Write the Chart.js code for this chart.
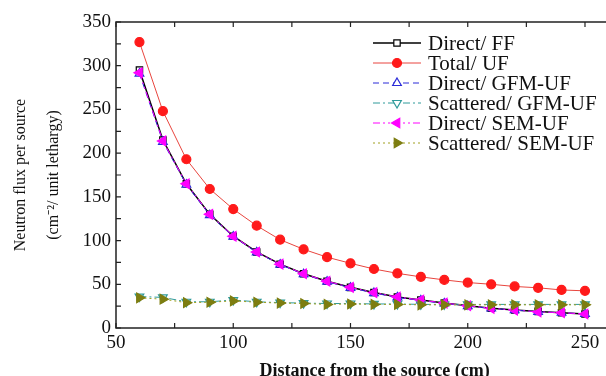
<!DOCTYPE html>
<html>
<head>
<meta charset="utf-8">
<script src="https://cdn.jsdelivr.net/npm/chart.js@4.4.0/dist/chart.umd.min.js"></script>
<style>
  html, body { margin: 0; padding: 0; background: #fff; overflow: hidden; }
  #wrap { width: 606px; height: 376px; overflow: hidden; }
</style>
</head>
<body>
<div id="wrap"><canvas id="myChart" width="640" height="376"></canvas></div>
<script>
// distance from the source (cm)
const distance = [60, 70, 80, 90, 100, 110, 120, 130, 140, 150, 160, 170, 180, 190, 200, 210, 220, 230, 240, 250];

// neutron flux per source
const directFF  = [295, 215, 165, 130, 105, 87, 73, 62, 53.5, 46.5, 40.5, 35.5, 32, 28.5, 25.5, 22.5, 20.5, 19, 17.5, 16];
const totalUF   = [327, 248, 193, 159, 136, 117, 101, 90, 81, 74, 67.5, 62.5, 58.5, 55, 52, 50, 47.5, 46, 43.5, 42.5];
const directGFM = [291, 213, 164, 129, 104.5, 86.5, 72.5, 61.5, 53, 46, 40, 35, 31.5, 28, 25, 22.5, 20.5, 18.5, 17.5, 16];
const scatGFM   = [36, 35, 30, 30, 32, 30, 29, 28.5, 28, 28, 27.5, 27.5, 27, 27, 27, 27, 27, 27, 27, 27];
const directSEM = [292, 214, 165, 130, 105, 87, 73, 62, 53.5, 46.5, 40.5, 35.5, 32, 28.5, 25.5, 22.5, 20.5, 18.5, 17.5, 16];
const scatSEM   = [34.5, 33, 29, 29.5, 31, 29.5, 28.5, 28, 27, 27.5, 27, 27, 26.5, 26.5, 26.5, 26.5, 26.5, 26.5, 26.5, 26.5];

const yTickLabels = [0, 50, 100, 150, 200, 250, 300, 350];
const xTickLabels = [50, 100, 150, 200, 250];

const serif = '"Liberation Serif", "Times New Roman", serif';

function pts(values) {
    return distance.map((d, i) => ({ x: d, y: values[i] }));
}

// frame with inward ticks, like the original plot
const frameTicks = {
    id: 'frameTicks',
    afterDraw(chart) {
        const { ctx, chartArea: a, scales: { x, y } } = chart;
        ctx.save();
        ctx.strokeStyle = '#222';
        ctx.lineWidth = 1.5;
        ctx.strokeRect(a.left, a.top, a.right - a.left, a.bottom - a.top);
        ctx.lineWidth = 1.2;
        ctx.beginPath();
        x.ticks.forEach(t => {
            const px = x.getPixelForValue(t.value);
            ctx.moveTo(px, a.bottom); ctx.lineTo(px, a.bottom - 5);
            ctx.moveTo(px, a.top); ctx.lineTo(px, a.top + 5);
        });
        y.ticks.forEach(t => {
            const py = y.getPixelForValue(t.value);
            ctx.moveTo(a.left, py); ctx.lineTo(a.left + 5, py);
        });
        ctx.stroke();
        ctx.restore();
    }
};

// legend drawn inside the plot, top right
const legendBox = {
    id: 'legendBox',
    afterDraw(chart) {
        const { ctx, chartArea: a } = chart;
        const x0 = a.left + 257;
        const y0 = a.top + 21;
        chart.data.datasets.forEach((ds, i) => {
            const yy = y0 + i * 20;
            ctx.save();
            ctx.strokeStyle = ds.borderColor;
            ctx.lineWidth = ds.borderWidth;
            ctx.setLineDash(ds.borderDash || []);
            ctx.beginPath();
            ctx.moveTo(x0, yy);
            ctx.lineTo(x0 + 48, yy);
            ctx.stroke();
            ctx.setLineDash([]);
            ctx.fillStyle = ds.pointBackgroundColor;
            ctx.strokeStyle = ds.pointBorderColor;
            ctx.lineWidth = ds.pointBorderWidth;
            Chart.helpers.drawPoint(ctx, {
                pointStyle: ds.pointStyle,
                rotation: ds.pointRotation || 0,
                radius: ds.pointRadius,
                borderWidth: ds.pointBorderWidth
            }, x0 + 24, yy);
            ctx.fillStyle = '#111';
            ctx.font = '21px ' + serif;
            ctx.textBaseline = 'middle';
            ctx.fillText(ds.label, x0 + 55, yy + 1);
            ctx.restore();
        });
    }
};

function makeSet(label, values, color, opts) {
    return Object.assign({
        label: label,
        data: pts(values),
        borderColor: color,
        borderWidth: 1,
        pointBorderColor: color,
        pointBackgroundColor: color,
        pointBorderWidth: 1.2,
        pointRadius: 4.5,
        pointHoverRadius: 4.5,
        tension: 0,
        fill: false
    }, opts);
}

const ctx = document.getElementById('myChart').getContext('2d');
const myChart = new Chart(ctx, {
    type: 'line',
    data: {
        datasets: [
            makeSet('Direct/ FF', directFF, '#000000', { pointStyle: 'rect', pointBackgroundColor: '#ffffff', borderWidth: 1.5, order: 5 }),
            makeSet('Total/ UF', totalUF, '#ff1a1a', { pointStyle: 'circle', borderColor: '#e8453e', order: 3 }),
            makeSet('Direct/ GFM-UF', directGFM, '#2a2ad8', { pointStyle: 'triangle', pointBackgroundColor: '#ffffff', borderDash: [6, 4], pointRadius: 5, order: 4 }),
            makeSet('Scattered/ GFM-UF', scatGFM, '#2f9a9a', { pointStyle: 'triangle', pointRotation: 180, pointBackgroundColor: '#ffffff', borderDash: [7, 3, 2, 3], pointRadius: 5, order: 2 }),
            makeSet('Direct/ SEM-UF', directSEM, '#ff00ff', { pointStyle: 'triangle', pointRotation: -90, borderDash: [7, 3, 2, 3, 2, 3], pointRadius: 5.5, order: 1 }),
            makeSet('Scattered/ SEM-UF', scatSEM, '#7d7d10', { pointStyle: 'triangle', pointRotation: 90, borderColor: '#a0a020', borderDash: [2, 3], pointRadius: 5.5, order: 0 })
        ]
    },
    options: {
        responsive: false,
        animation: false,
        layout: { padding: { top: 22, right: 0, left: 0, bottom: 0 } },
        plugins: {
            legend: { display: false },
            tooltip: { enabled: false }
        },
        scales: {
            x: {
                type: 'linear',
                min: 50,
                max: 270.6,
                grid: { display: false, drawTicks: false },
                border: { display: false },
                afterBuildTicks: scale => {
                    scale.ticks = scale.ticks.filter(t => t.value % 25 === 0 && t.value <= 250);
                },
                afterFit: scale => { scale.height = 48; },
                ticks: {
                    stepSize: 25,
                    includeBounds: false,
                    autoSkip: false,
                    maxRotation: 0,
                    padding: 4,
                    color: '#111',
                    font: { family: serif, size: 19 },
                    callback: v => xTickLabels.includes(v) ? String(v) : ''
                },
                title: {
                    display: true,
                    text: 'Distance from the source (cm)',
                    color: '#111',
                    font: { family: serif, size: 18, weight: 'bold' },
                    padding: { top: 0, bottom: -6 }
                }
            },
            y: {
                min: 0,
                max: 350,
                grid: { display: false, drawTicks: false },
                border: { display: false },
                afterFit: scale => { scale.width = 116; },
                ticks: {
                    stepSize: 25,
                    autoSkip: false,
                    padding: 5,
                    color: '#111',
                    font: { family: serif, size: 19 },
                    callback: v => yTickLabels.includes(v) ? String(v) : ''
                },
                title: {
                    display: true,
                    text: ['Neutron flux per source', '(cm\u207B\u00B2/ unit lethargy)'],
                    color: '#111',
                    font: { family: serif, size: 16, lineHeight: '33px' },
                    padding: { top: 4, bottom: 0 }
                }
            }
        }
    },
    plugins: [frameTicks, legendBox]
});
</script>
</body>
</html>
